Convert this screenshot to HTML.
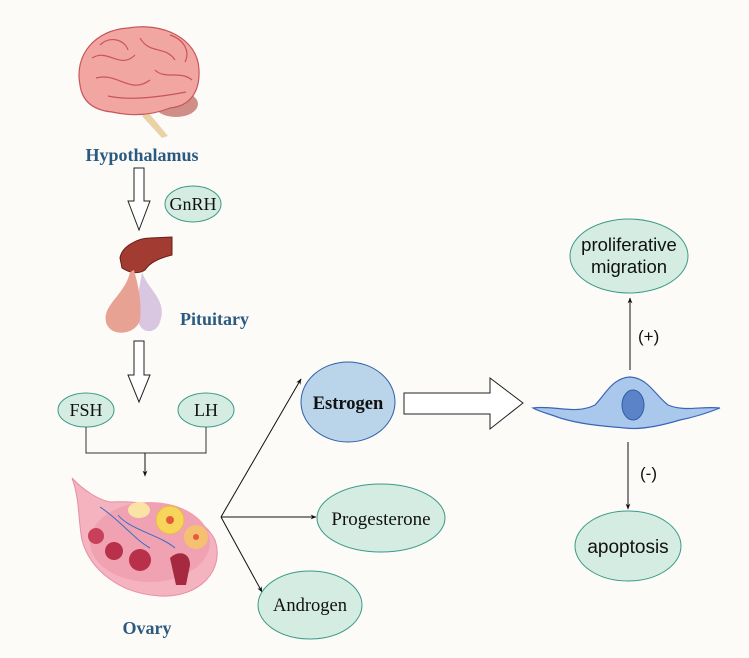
<!DOCTYPE html>
<html><head><meta charset="utf-8"><style>html,body{margin:0;padding:0;background:#fdfbf8;}svg{display:block}</style></head>
<body>
<svg width="749" height="658" viewBox="0 0 749 658" xmlns="http://www.w3.org/2000/svg">
<defs>
<marker id="ah" viewBox="0 0 10 10" refX="9" refY="5" markerWidth="6" markerHeight="6" orient="auto"><path d="M0,1 L10,5 L0,9 L3,5 z" fill="#111"/></marker>
</defs>
<rect width="749" height="658" fill="#fdfbf8"/>
<!-- brain -->
<path d="M148,112 L168,136 L162,138 L142,116 z" fill="#e9d3a6"/>
<ellipse cx="176" cy="104" rx="22" ry="13" fill="#cf8f88"/>
<path d="M80,85 C74,55 95,30 128,28 C162,22 198,38 199,70 C200,92 190,106 170,108 C150,116 130,116 112,112 C92,110 82,100 80,85 z" fill="#f2a6a2" stroke="#c8555a" stroke-width="1.2"/>
<path d="M92,58 C108,48 120,70 135,55 M96,78 C118,72 130,95 150,80 M140,38 C150,55 165,45 175,60 M108,96 C130,101 160,97 186,92 M155,70 C165,80 180,70 192,80 M100,45 C110,35 125,40 128,50 M170,35 C185,40 190,52 185,62" fill="none" stroke="#c8555a" stroke-width="1.2"/>
<text x="142" y="161" text-anchor="middle" font-family="Liberation Serif, serif" font-weight="bold" font-size="18" fill="#2a5a80">Hypothalamus</text>
<path d="M134,168 L144,168 L144,201 L150,201 L139,230 L128,201 L134,201 z" fill="#fff" stroke="#222" stroke-width="1"/>
<ellipse cx="193" cy="204" rx="28" ry="18" fill="#d5ece3" stroke="#3a9a88" stroke-width="1"/>
<text x="193" y="210" text-anchor="middle" font-family="Liberation Serif, serif" font-size="18" fill="#111">GnRH</text>
<!-- pituitary -->
<path d="M120,258 C122,245 140,238 150,238 L172,237 L172,255 C160,258 150,262 145,270 C138,275 128,272 122,268 z" fill="#a23b32" stroke="#6a1e18" stroke-width="1"/>
<path d="M142,272 C148,290 168,300 160,322 C156,335 140,334 138,320 C136,300 140,285 142,272 z" fill="#d9c6e0"/>
<path d="M134,270 C138,285 142,300 140,320 C136,335 110,338 106,322 C102,305 125,295 130,272 z" fill="#e8a293"/>
<text x="180" y="325" font-family="Liberation Serif, serif" font-weight="bold" font-size="18" fill="#2a5a80">Pituitary</text>
<path d="M134,341 L144,341 L144,375 L150,375 L139,402 L128,375 L134,375 z" fill="#fff" stroke="#222" stroke-width="1"/>
<ellipse cx="86" cy="410" rx="28" ry="17" fill="#d5ece3" stroke="#3a9a88" stroke-width="1"/>
<text x="86" y="416" text-anchor="middle" font-family="Liberation Serif, serif" font-size="18" fill="#111">FSH</text>
<ellipse cx="206" cy="410" rx="28" ry="17" fill="#d5ece3" stroke="#3a9a88" stroke-width="1"/>
<text x="206" y="416" text-anchor="middle" font-family="Liberation Serif, serif" font-size="18" fill="#111">LH</text>
<path d="M86,427 L86,453 L206,453 L206,427" fill="none" stroke="#333" stroke-width="1"/>
<line x1="145" y1="453" x2="145" y2="476" stroke="#111" stroke-width="1" marker-end="url(#ah)"/>
<!-- ovary -->
<path d="M72,478 C85,492 100,500 110,502 C150,500 200,510 215,540 C225,570 200,598 160,596 C120,594 90,570 82,540 C78,520 80,500 72,478 z" fill="#f4b3bf" stroke="#e68fa0" stroke-width="1"/>
<ellipse cx="150" cy="542" rx="60" ry="40" fill="#f0a2b2"/>
<circle cx="96" cy="536" r="8" fill="#c8405a"/>
<circle cx="114" cy="551" r="9" fill="#b8304a"/>
<circle cx="140" cy="560" r="11" fill="#b8304a"/>
<path d="M170,558 C178,550 190,552 190,565 L186,585 L176,585 z" fill="#a52a40"/>
<circle cx="170" cy="520" r="14" fill="#f7d55b" stroke="#e8b84a"/>
<circle cx="170" cy="520" r="4" fill="#e65a3c"/>
<circle cx="196" cy="537" r="12" fill="#f5c070"/>
<circle cx="196" cy="537" r="3" fill="#e65a3c"/>
<ellipse cx="139" cy="510" rx="11" ry="8" fill="#fbe3a6"/>
<path d="M100,507 C120,520 135,540 150,548 M118,515 C130,530 160,535 175,548" fill="none" stroke="#3c6ec0" stroke-width="1"/>
<text x="147" y="634" text-anchor="middle" font-family="Liberation Serif, serif" font-weight="bold" font-size="18" fill="#2a5a80">Ovary</text>
<line x1="221" y1="517" x2="301" y2="379" stroke="#111" stroke-width="1" marker-end="url(#ah)"/>
<line x1="221" y1="517" x2="316" y2="517" stroke="#111" stroke-width="1" marker-end="url(#ah)"/>
<line x1="221" y1="517" x2="262" y2="592" stroke="#111" stroke-width="1" marker-end="url(#ah)"/>
<ellipse cx="348" cy="402" rx="47" ry="40" fill="#bad4ea" stroke="#2f5ea8" stroke-width="1"/>
<text x="348" y="409" text-anchor="middle" font-family="Liberation Serif, serif" font-weight="bold" font-size="18.5" fill="#111">Estrogen</text>
<ellipse cx="381" cy="518" rx="64" ry="34" fill="#d5ece3" stroke="#3a9a88" stroke-width="1"/>
<text x="381" y="525" text-anchor="middle" font-family="Liberation Serif, serif" font-size="19" fill="#111">Progesterone</text>
<ellipse cx="310" cy="605" rx="52" ry="34" fill="#d5ece3" stroke="#3a9a88" stroke-width="1"/>
<text x="310" y="611" text-anchor="middle" font-family="Liberation Serif, serif" font-size="18.5" fill="#111">Androgen</text>
<path d="M404,393 L490,393 L490,378 L523,403 L490,429 L490,414 L404,414 z" fill="#fff" stroke="#222" stroke-width="1"/>
<!-- cell -->
<path d="M533,408 C555,405 575,415 595,405 C605,395 612,378 630,377 C648,378 655,395 668,405 C685,412 700,406 720,408 C705,414 690,418 680,420 C660,426 640,430 625,428 C600,426 580,424 560,418 C550,414 540,412 533,408 z" fill="#a9c8ec" stroke="#3a66b8" stroke-width="1.2"/>
<ellipse cx="633" cy="405" rx="11" ry="15" fill="#5b83c8" stroke="#2f5ea8"/>
<line x1="630" y1="370" x2="630" y2="298" stroke="#111" stroke-width="1" marker-end="url(#ah)"/>
<text x="638" y="342" font-family="Liberation Sans, sans-serif" font-size="17" fill="#111">(+)</text>
<ellipse cx="629" cy="256" rx="59" ry="37" fill="#d5ece3" stroke="#3a9a88" stroke-width="1"/>
<text x="629" y="251" text-anchor="middle" font-family="Liberation Sans, sans-serif" font-size="18.5" fill="#111">proliferative</text>
<text x="629" y="273" text-anchor="middle" font-family="Liberation Sans, sans-serif" font-size="18.5" fill="#111">migration</text>
<line x1="628" y1="442" x2="628" y2="509" stroke="#111" stroke-width="1" marker-end="url(#ah)"/>
<text x="640" y="479" font-family="Liberation Sans, sans-serif" font-size="17" fill="#111">(-)</text>
<ellipse cx="628" cy="546" rx="53" ry="35" fill="#d5ece3" stroke="#3a9a88" stroke-width="1"/>
<text x="628" y="553" text-anchor="middle" font-family="Liberation Sans, sans-serif" font-size="19" fill="#111">apoptosis</text>
</svg>
</body></html>
